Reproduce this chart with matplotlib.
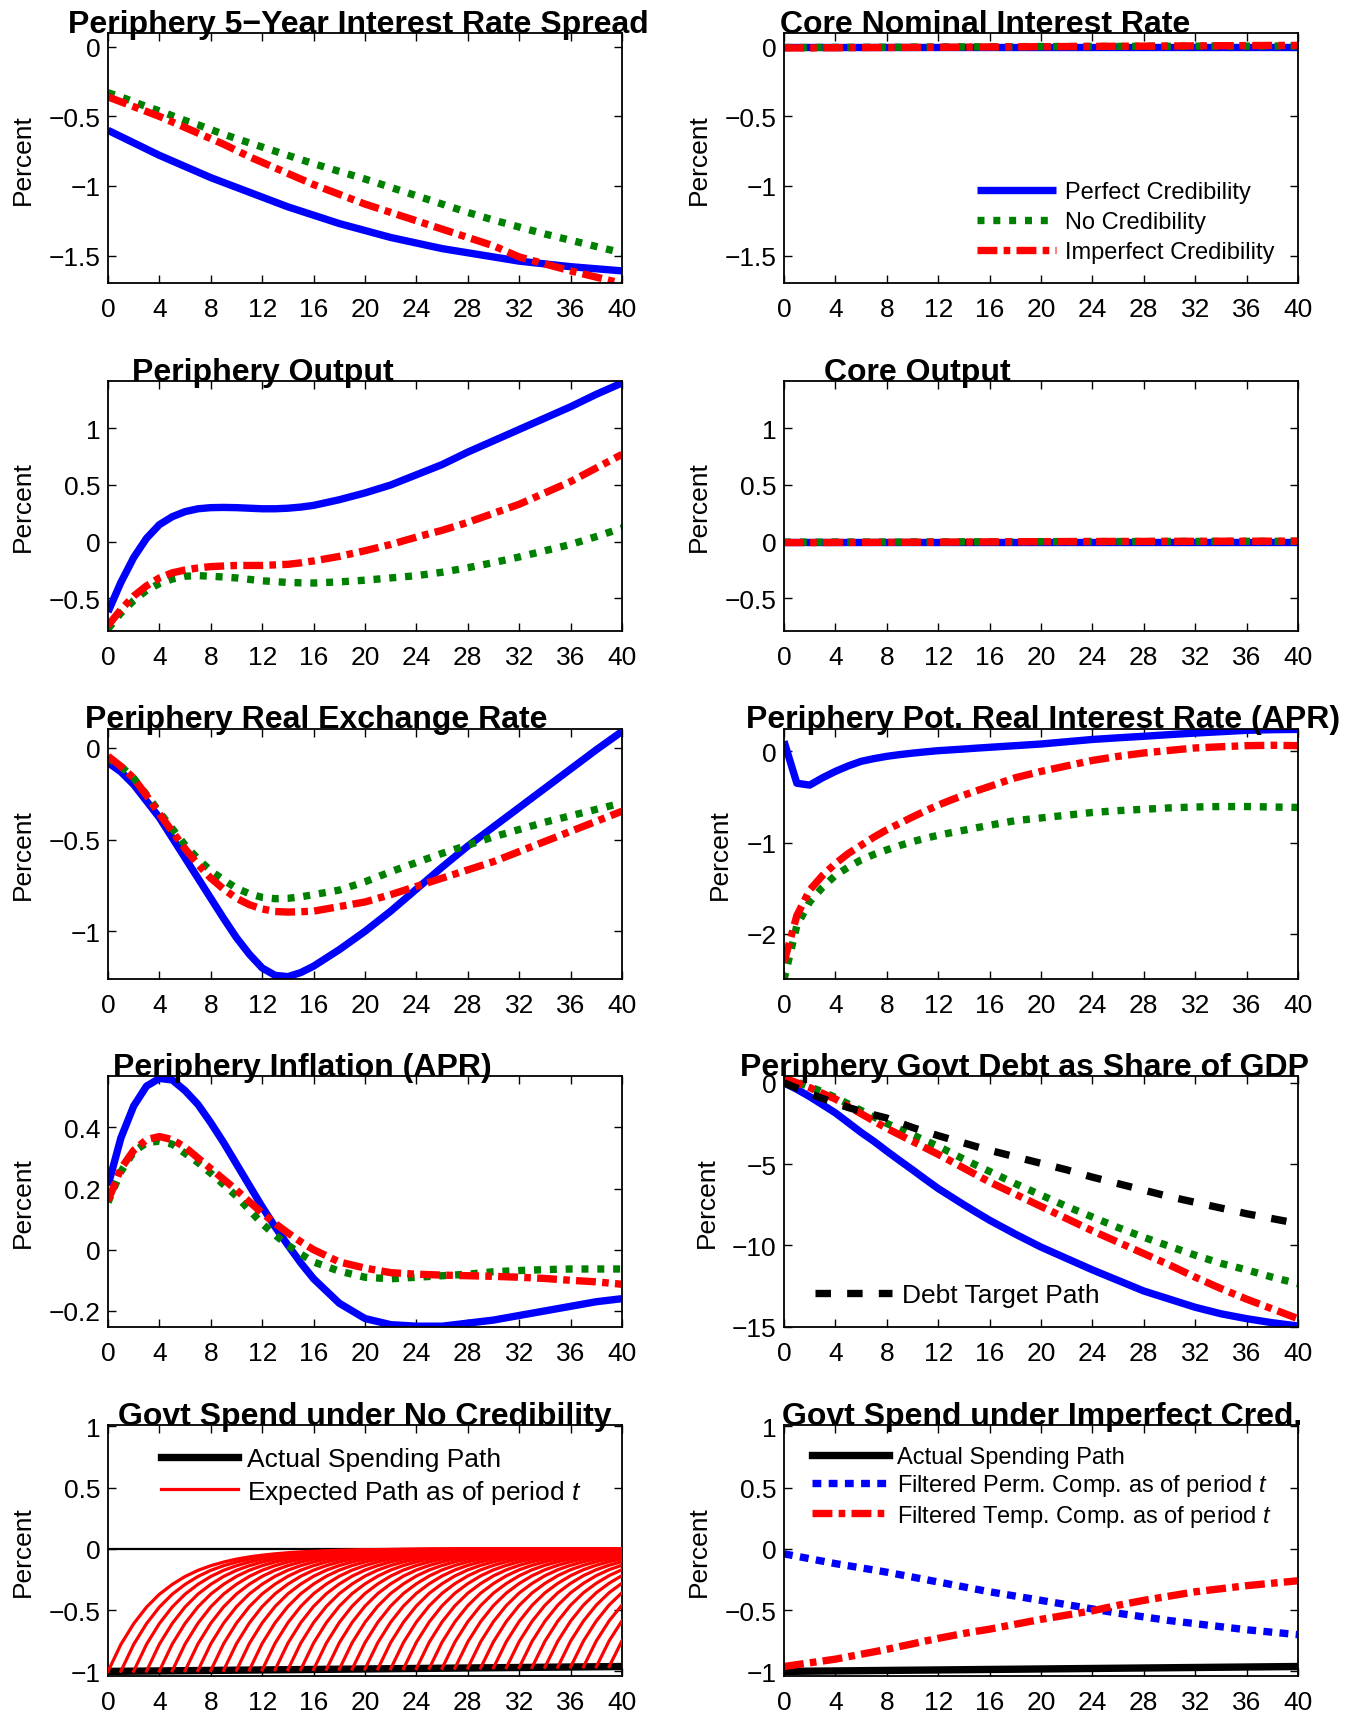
import numpy as np
import matplotlib
matplotlib.use('Agg')
import matplotlib.pyplot as plt
from matplotlib.ticker import FuncFormatter

plt.rcParams['font.family'] = ['Liberation Sans', 'DejaVu Sans']
plt.rcParams['mathtext.fontset'] = 'custom'
plt.rcParams['mathtext.it'] = 'Liberation Sans:italic'
plt.rcParams['mathtext.rm'] = 'Liberation Sans'

# ---------------- data ----------------
quarters = [0, 1, 2, 3, 4, 5, 6, 7, 8, 9, 10, 11, 12, 13, 14, 15, 16,
            18, 20, 22, 24, 26, 28, 30, 32, 34, 36, 38, 40]
periods = list(range(41))
xticks = [0, 4, 8, 12, 16, 20, 24, 28, 32, 36, 40]

# Periphery 5-Year Interest Rate Spread
spread_perfect = [-0.60, -0.645, -0.69, -0.735, -0.78, -0.82, -0.86, -0.90, -0.94, -0.975, -1.01, -1.045, -1.08,
                  -1.115, -1.15, -1.18, -1.21,
                  -1.27, -1.32, -1.37, -1.41, -1.45, -1.48, -1.51, -1.54, -1.56, -1.58, -1.595, -1.61]
spread_none = [-0.33, -0.36, -0.395, -0.43, -0.46, -0.495, -0.53, -0.56, -0.595, -0.628, -0.66, -0.69, -0.72,
               -0.75, -0.78, -0.81, -0.84,
               -0.895, -0.95, -1.01, -1.07, -1.13, -1.19, -1.245, -1.295, -1.345, -1.39, -1.435, -1.48]
spread_imperf = [-0.36, -0.395, -0.43, -0.465, -0.50, -0.54, -0.58, -0.62, -0.66, -0.70, -0.745, -0.79, -0.83,
                 -0.87, -0.91, -0.95, -0.99,
                 -1.06, -1.13, -1.19, -1.25, -1.31, -1.37, -1.43, -1.51, -1.56, -1.61, -1.655, -1.70]

# Core Nominal Interest Rate
core_rate_perfect = [0.0, 0.0, 0.0, 0.0, 0.0, 0.0, 0.0, 0.0, 0.0, 0.0, 0.0, 0.0, 0.0, 0.0, 0.0, 0.0, 0.0,
                     0.0, 0.0, 0.0, 0.0, 0.0, 0.0, 0.0, 0.0, 0.0, 0.0, 0.0, 0.0]
core_rate_none = [-0.005, -0.005, -0.005, -0.004, -0.004, -0.004, -0.003, -0.003, -0.003, -0.003, -0.002, -0.002,
                  -0.001, -0.001, 0.0, 0.0, 0.0,
                  0.001, 0.002, 0.002, 0.003, 0.003, 0.004, 0.004, 0.005, 0.005, 0.005, 0.006, 0.006]
core_rate_imperf = [-0.008, -0.008, -0.008, -0.007, -0.007, -0.006, -0.006, -0.005, -0.005, -0.005, -0.004, -0.004,
                    -0.003, -0.003, -0.002, -0.002, -0.001,
                    0.0, 0.001, 0.002, 0.003, 0.004, 0.005, 0.006, 0.007, 0.008, 0.009, 0.010, 0.010]

# Periphery Output
output_perfect = [-0.62, -0.36, -0.14, 0.03, 0.15, 0.22, 0.265, 0.29, 0.30, 0.302, 0.30, 0.295, 0.29,
                  0.29, 0.295, 0.305, 0.32,
                  0.37, 0.43, 0.50, 0.59, 0.68, 0.79, 0.89, 0.99, 1.09, 1.19, 1.30, 1.40]
output_none = [-0.77, -0.63, -0.52, -0.43, -0.37, -0.33, -0.305, -0.30, -0.305, -0.312, -0.32, -0.333, -0.345,
               -0.353, -0.36, -0.363, -0.365,
               -0.355, -0.34, -0.32, -0.30, -0.27, -0.23, -0.185, -0.135, -0.08, -0.025, 0.045, 0.12]
output_imperf = [-0.74, -0.60, -0.48, -0.39, -0.32, -0.275, -0.25, -0.232, -0.22, -0.215, -0.21, -0.21, -0.21,
                 -0.205, -0.20, -0.187, -0.17,
                 -0.13, -0.08, -0.025, 0.04, 0.10, 0.17, 0.25, 0.33, 0.43, 0.53, 0.65, 0.77]

# Core Output
core_out_perfect = [0.0, 0.0, 0.0, 0.0, 0.0, 0.0, 0.0, 0.0, 0.0, 0.0, 0.0, 0.0, 0.0, 0.0, 0.0, 0.0, 0.0,
                    0.0, 0.0, 0.0, 0.0, 0.0, 0.0, 0.0, 0.0, 0.0, 0.0, 0.0, 0.0]
core_out_none = [-0.004, -0.004, -0.004, -0.004, -0.003, -0.003, -0.003, -0.003, -0.003, -0.003, -0.002, -0.002,
                 -0.002, -0.002, -0.001, -0.001, -0.001,
                 0.0, 0.0, 0.0, 0.001, 0.001, 0.001, 0.002, 0.002, 0.002, 0.003, 0.003, 0.003]
core_out_imperf = [-0.008, -0.008, -0.008, -0.008, -0.007, -0.007, -0.007, -0.006, -0.006, -0.006, -0.005, -0.005,
                   -0.004, -0.004, -0.003, -0.003, -0.002,
                   -0.001, 0.0, 0.001, 0.001, 0.002, 0.002, 0.003, 0.003, 0.004, 0.004, 0.004, 0.005]

# Periphery Real Exchange Rate
rer_perfect = [-0.08, -0.13, -0.20, -0.29, -0.38, -0.49, -0.60, -0.71, -0.82, -0.93, -1.035, -1.125, -1.20,
               -1.24, -1.247, -1.225, -1.19,
               -1.10, -1.00, -0.89, -0.77, -0.65, -0.535, -0.43, -0.325, -0.22, -0.115, -0.01, 0.09]
rer_none = [-0.055, -0.10, -0.165, -0.255, -0.35, -0.44, -0.53, -0.605, -0.67, -0.72, -0.765, -0.795, -0.815,
            -0.822, -0.82, -0.812, -0.80,
            -0.775, -0.73, -0.675, -0.625, -0.575, -0.53, -0.485, -0.445, -0.405, -0.37, -0.335, -0.30]
rer_imperf = [-0.045, -0.10, -0.165, -0.26, -0.36, -0.455, -0.55, -0.635, -0.71, -0.77, -0.82, -0.855, -0.878,
              -0.892, -0.895, -0.893, -0.89,
              -0.865, -0.84, -0.80, -0.755, -0.71, -0.665, -0.62, -0.565, -0.51, -0.455, -0.40, -0.345]

# Periphery Pot. Real Interest Rate (APR)
prr_perfect = [0.11, -0.35, -0.37, -0.29, -0.22, -0.16, -0.11, -0.08, -0.055, -0.036, -0.02, -0.006, 0.007,
               0.016, 0.025, 0.035, 0.044,
               0.062, 0.08, 0.105, 0.13, 0.148, 0.165, 0.183, 0.20, 0.215, 0.23, 0.237, 0.24]
prr_none = [-2.50, -1.91, -1.65, -1.49, -1.36, -1.27, -1.19, -1.13, -1.08, -1.033, -0.99, -0.953, -0.92,
            -0.892, -0.865, -0.837, -0.81,
            -0.76, -0.73, -0.70, -0.67, -0.65, -0.635, -0.62, -0.61, -0.605, -0.605, -0.61, -0.615]
prr_imperf = [-2.31, -1.80, -1.52, -1.36, -1.23, -1.12, -1.03, -0.94, -0.86, -0.79, -0.72, -0.653, -0.59,
              -0.533, -0.48, -0.432, -0.385,
              -0.29, -0.22, -0.16, -0.10, -0.055, -0.018, 0.01, 0.037, 0.05, 0.062, 0.066, 0.062]

# Periphery Inflation (APR)
infl_perfect = [0.21, 0.365, 0.47, 0.535, 0.56, 0.555, 0.52, 0.475, 0.415, 0.35, 0.28, 0.21, 0.14,
                0.075, 0.015, -0.043, -0.095,
                -0.175, -0.225, -0.245, -0.25, -0.25, -0.24, -0.23, -0.215, -0.20, -0.185, -0.17, -0.16]
infl_none = [0.155, 0.255, 0.32, 0.35, 0.355, 0.345, 0.315, 0.285, 0.25, 0.213, 0.175, 0.13, 0.085,
             0.048, 0.015, -0.014, -0.04,
             -0.07, -0.09, -0.095, -0.09, -0.085, -0.08, -0.072, -0.068, -0.065, -0.063, -0.063, -0.063]
infl_imperf = [0.16, 0.265, 0.325, 0.36, 0.37, 0.36, 0.335, 0.30, 0.265, 0.23, 0.195, 0.157, 0.12,
               0.086, 0.055, 0.026, 0.0,
               -0.04, -0.06, -0.075, -0.08, -0.083, -0.085, -0.087, -0.09, -0.094, -0.10, -0.105, -0.113]

# Periphery Govt Debt as Share of GDP
debt_perfect = [0.0, -0.4, -0.85, -1.35, -1.85, -2.45, -3.05, -3.6, -4.2, -4.78, -5.35, -5.93, -6.5,
                -7.0, -7.5, -7.98, -8.45,
                -9.3, -10.1, -10.8, -11.5, -12.15, -12.8, -13.3, -13.8, -14.2, -14.5, -14.75, -14.95]
debt_none = [0.3, 0.05, -0.25, -0.55, -0.9, -1.3, -1.7, -2.1, -2.5, -2.85, -3.2, -3.55, -3.9,
             -4.3, -4.7, -5.08, -5.45,
             -6.2, -6.9, -7.6, -8.25, -8.9, -9.5, -10.05, -10.6, -11.1, -11.5, -11.95, -12.35]
debt_imperf = [0.3, 0.0, -0.3, -0.65, -1.0, -1.45, -1.9, -2.35, -2.8, -3.2, -3.6, -4.0, -4.4,
               -4.82, -5.25, -5.68, -6.1,
               -6.85, -7.6, -8.35, -9.1, -9.8, -10.5, -11.2, -11.95, -12.65, -13.3, -13.9, -14.5]
debt_target = [0.0, -0.33, -0.65, -0.97, -1.25, -1.52, -1.75, -1.97, -2.17, -2.46, -2.75, -3.0, -3.25,
               -3.48, -3.7, -3.93, -4.15,
               -4.55, -4.95, -5.35, -5.8, -6.2, -6.6, -7.0, -7.35, -7.7, -8.05, -8.35, -8.65]

# Government spending (per period 0..40)
actual_spending = [-1.000, -0.999, -0.998, -0.997, -0.996, -0.995, -0.994, -0.993, -0.992, -0.991, -0.990,
                   -0.989, -0.988, -0.987, -0.986, -0.985, -0.984, -0.983, -0.982, -0.981, -0.980,
                   -0.979, -0.978, -0.977, -0.976, -0.975, -0.974, -0.973, -0.972, -0.971, -0.970,
                   -0.969, -0.968, -0.967, -0.966, -0.965, -0.964, -0.963, -0.962, -0.961, -0.960]
# expected path under no credibility, as fraction of current spending, k periods ahead
expected_profile = [1.0, 0.78, 0.61, 0.475, 0.37, 0.29, 0.225, 0.175, 0.137, 0.107, 0.083, 0.065, 0.051,
                    0.04, 0.031, 0.024, 0.019, 0.015, 0.011, 0.009, 0.007, 0.005, 0.004, 0.003, 0.0025,
                    0.002, 0.0015, 0.001, 0.001, 0.0008, 0.0006, 0.0005, 0.0004, 0.0003, 0.0002, 0.0002,
                    0.0001, 0.0001, 0.0001, 0.0, 0.0]
filtered_perm = [-0.04, -0.06, -0.08, -0.10, -0.12, -0.137, -0.155, -0.172, -0.19, -0.21, -0.23, -0.25, -0.27,
                 -0.29, -0.31, -0.33, -0.35,
                 -0.385, -0.42, -0.455, -0.49, -0.525, -0.555, -0.585, -0.61, -0.635, -0.66, -0.68, -0.70]
filtered_temp = [-0.96, -0.945, -0.93, -0.915, -0.90, -0.88, -0.86, -0.84, -0.82, -0.797, -0.775, -0.752, -0.73,
                 -0.71, -0.69, -0.672, -0.655,
                 -0.615, -0.575, -0.54, -0.505, -0.46, -0.42, -0.385, -0.35, -0.325, -0.30, -0.28, -0.26]

series_names = ['Perfect Credibility', 'No Credibility', 'Imperfect Credibility']

# ---------------- styles ----------------
W, H = 1354, 1715
LW = 5.3
BLUE = dict(color=(0, 0, 1), lw=LW, ls='-', solid_capstyle='butt')
GREEN = dict(color=(0, 0.5, 0), lw=LW, ls=(0, (0.95, 1.2)), dash_capstyle='butt')
RED = dict(color=(1, 0, 0), lw=LW, ls=(0, (2.7, 0.85, 0.9, 0.85)), dash_capstyle='butt')

fig = plt.figure(figsize=(W / 100, H / 100), dpi=100)

LEFTS = [108, 784]
TOPS = [33.9, 381.7, 729.5, 1077.3, 1426.2]
AW, AH = 514, 250.5


def make_ax(col, row):
    l = LEFTS[col]
    t = TOPS[row]
    return fig.add_axes([l / W, 1 - (t + AH) / H, AW / W, AH / H])


def fmt(v, pos):
    s = '%g' % v
    return s.replace('-', '\u2212')


def style(ax, ylim, yticks, title, tx, ylab_x=-0.142):
    ax.set_xlim(0, 40)
    ax.set_xticks(xticks)
    ax.set_ylim(*ylim)
    ax.set_yticks(yticks)
    ax.yaxis.set_major_formatter(FuncFormatter(fmt))
    ax.tick_params(direction='in', top=True, right=True, length=6, width=1.0, labelsize=19)
    ax.tick_params(axis='x', pad=10)
    ax.tick_params(axis='y', pad=5.5)
    for s in ax.spines.values():
        s.set_linewidth(1.3)
    ax.set_ylabel('Percent', fontsize=19)
    ax.yaxis.set_label_coords(ylab_x, 0.5)
    ax.text(tx, 1.004, title, transform=ax.transAxes, ha='center', va='baseline',
            fontsize=23, fontweight='bold')


def three(ax, a, b, c):
    l1, = ax.plot(quarters, a, **BLUE)
    l2, = ax.plot(quarters, b, **GREEN)
    l3, = ax.plot(quarters, c, **RED)
    return [l1, l2, l3]


def px_anchor(x_px, y_px):
    return (x_px / W, 1 - y_px / H)


# Row 1
ax = make_ax(0, 0)
three(ax, spread_perfect, spread_none, spread_imperf)
style(ax, (-1.7, 0.1), [-1.5, -1, -0.5, 0], 'Periphery 5\u2212Year Interest Rate Spread', 0.487)

ax = make_ax(1, 0)
lines = three(ax, core_rate_perfect, core_rate_none, core_rate_imperf)
style(ax, (-1.7, 0.1), [-1.5, -1, -0.5, 0], 'Core Nominal Interest Rate', 0.391)
fig.legend(lines, series_names, loc='center left', bbox_to_anchor=px_anchor(977, 223),
           frameon=False, fontsize=17, handlelength=3.35, handletextpad=0.38,
           labelspacing=0.33, borderpad=0, borderaxespad=0)

# Row 2
ax = make_ax(0, 1)
three(ax, output_perfect, output_none, output_imperf)
style(ax, (-0.79, 1.42), [-0.5, 0, 0.5, 1], 'Periphery Output', 0.302)

ax = make_ax(1, 1)
three(ax, core_out_perfect, core_out_none, core_out_imperf)
style(ax, (-0.79, 1.42), [-0.5, 0, 0.5, 1], 'Core Output', 0.260)

# Row 3
ax = make_ax(0, 2)
three(ax, rer_perfect, rer_none, rer_imperf)
style(ax, (-1.26, 0.106), [-1, -0.5, 0], 'Periphery Real Exchange Rate', 0.406)

ax = make_ax(1, 2)
three(ax, prr_perfect, prr_none, prr_imperf)
style(ax, (-2.495, 0.25), [-2, -1, 0], 'Periphery Pot. Real Interest Rate (APR)', 0.504, -0.1015)

# Row 4
ax = make_ax(0, 3)
three(ax, infl_perfect, infl_none, infl_imperf)
style(ax, (-0.252, 0.567), [-0.2, 0, 0.2, 0.4], 'Periphery Inflation (APR)', 0.379)

ax = make_ax(1, 3)
three(ax, debt_perfect, debt_none, debt_imperf)
tl, = ax.plot(quarters, debt_target, color='k', lw=LW, ls=(0, (2.1, 2.2)), dash_capstyle='butt')
style(ax, (-15, 0.4), [-15, -10, -5, 0], 'Periphery Govt Debt as Share of GDP', 0.468, -0.127)
fig.legend([tl], ['Debt Target Path'], loc='center left', bbox_to_anchor=px_anchor(815, 1296),
           frameon=False, fontsize=19, handlelength=2.9, handletextpad=0.4,
           borderpad=0, borderaxespad=0)

# Row 5
ax = make_ax(0, 4)
ax.axhline(0, color='k', lw=1.6, zorder=1)
al, = ax.plot(periods, actual_spending, color='k', lw=LW, zorder=2)
for t in periods[:-1]:
    xs = periods[t:]
    ys = [actual_spending[t] * expected_profile[k] for k in range(len(xs))]
    el, = ax.plot(xs, ys, color=(1, 0, 0), lw=2.3, zorder=3)
style(ax, (-1.035, 1.01), [-1, -0.5, 0, 0.5, 1], 'Govt Spend under No Credibility', 0.5)
fig.legend([al, el], ['Actual Spending Path', r'Expected Path as of period $t$'], loc='center left',
           bbox_to_anchor=px_anchor(161, 1477.5), frameon=False, fontsize=19, handlelength=2.9,
           handletextpad=0.37, labelspacing=0.23, borderpad=0, borderaxespad=0)

ax = make_ax(1, 4)
al2, = ax.plot(periods, actual_spending, color='k', lw=LW)
pl, = ax.plot(quarters, filtered_perm, color=(0, 0, 1), lw=LW, ls=(0, (1.2, 1.0)), dash_capstyle='butt')
rl, = ax.plot(quarters, filtered_temp, **RED)
style(ax, (-1.035, 1.01), [-1, -0.5, 0, 0.5, 1], 'Govt Spend under Imperfect Cred.', 0.502)
fig.legend([al2, pl, rl], ['Actual Spending Path', r'Filtered Perm. Comp. as of period $t$',
                           r'Filtered Temp. Comp. as of period $t$'], loc='center left',
           bbox_to_anchor=px_anchor(812, 1488.5), frameon=False, fontsize=17, handlelength=3.25,
           handletextpad=0.36, labelspacing=0.17, borderpad=0, borderaxespad=0)

fig.savefig('out.png', dpi=100)
